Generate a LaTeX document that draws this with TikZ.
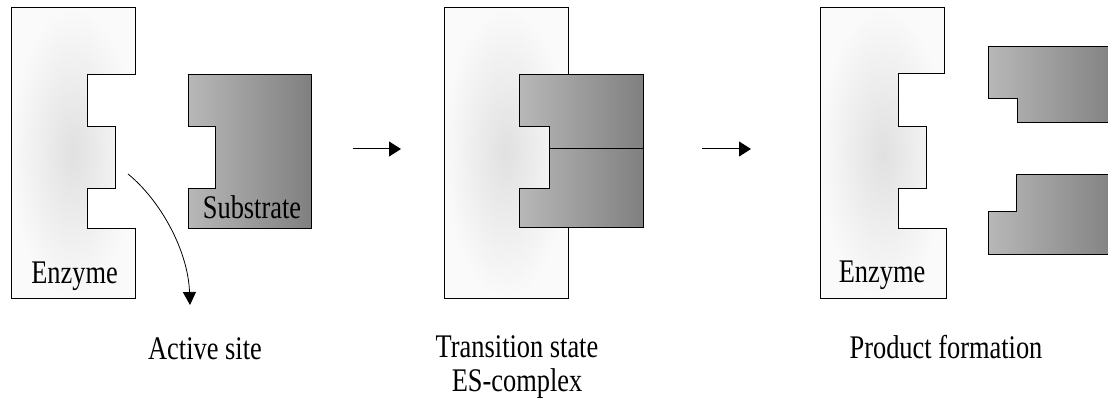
\documentclass[tikz,border=0pt]{standalone}
\usepackage{fontspec}
\setmainfont[FakeStretch=0.8]{Liberation Serif}
\usetikzlibrary{arrows.meta}
\begin{document}
\begin{tikzpicture}[x=1pt,y=-1pt,
  outline/.style={draw=black,line width=1pt,line join=miter},
  enzymefill/.style={outline,inner color=black!12,outer color=black!2},
  substratefill/.style={outline,left color=black!28,right color=black!50},
  label/.style={font=\fontsize{33}{34}\selectfont,inner sep=0pt,anchor=base},
  steparrow/.style={line width=1pt,-{Triangle[length=12pt,width=15pt]}},
]
\useasboundingbox (0,0) rectangle (1108,409);
\begin{scope}
\clip (0,0) rectangle (1108,409);

% --- stage 1: free enzyme and substrate ---
\path[enzymefill] (11,8) -- (135,8) -- (135,75) -- (87,75) -- (87,127) -- (115,127)
  -- (115,188) -- (87,188) -- (87,228) -- (135,228) -- (135,298) -- (11,298) -- cycle;
\path[substratefill] (188,75) -- (311,75) -- (311,228) -- (188,228) -- (188,188)
  -- (215,188) -- (215,127) -- (188,127) -- cycle;
\node[label] (enz1) at (74.5,283) {Enzyme};
\node[label] (sub) at (252,218) {Substrate};

% active-site pointer
\coordinate (siteA) at (128,174);
\coordinate (siteB) at (190,305);
\draw[line width=0.8pt,-{Triangle[length=13pt,width=13pt]}]
  (siteA) .. controls (160,200) and (188,250) .. (siteB);
\node[label] (active) at (205,359) {Active site};

% --- stage 2: enzyme-substrate complex ---
\path[enzymefill] (444,8) -- (568,8) -- (568,75) -- (519,75) -- (519,127) -- (549,127)
  -- (549,188) -- (519,188) -- (519,227) -- (568,227) -- (568,298) -- (444,298) -- cycle;
\path[substratefill] (519,75) -- (643,75) -- (643,227) -- (519,227) -- (519,188)
  -- (549,188) -- (549,127) -- (519,127) -- cycle;
\coordinate (bondL) at (549,148);
\coordinate (bondR) at (643,148);
\draw[line width=0.8pt] (bondL) -- (bondR);
\node[label,align=center] (ts) at (517,391) {Transition state\\ES-complex};

% --- stage 3: enzyme released, two products ---
\path[enzymefill] (820,8) -- (944,8) -- (944,74) -- (898,74) -- (898,127) -- (926,127)
  -- (926,188) -- (898,188) -- (898,228) -- (946,228) -- (946,298) -- (820,298) -- cycle;
\node[label] (enz3) at (882,282) {Enzyme};
\path[substratefill] (988,47) -- (1120,47) -- (1120,123) -- (1017,123) -- (1017,99)
  -- (988,99) -- cycle;
\path[substratefill] (1016,174) -- (1120,174) -- (1120,254) -- (988,254) -- (988,211)
  -- (1016,211) -- cycle;
\node[label] (prod) at (946,358) {Product formation};

% --- reaction arrows ---
\coordinate (r1a) at (353,149);
\coordinate (r1b) at (401,149);
\coordinate (r2a) at (702,149);
\coordinate (r2b) at (751,149);
\draw[steparrow] (r1a) -- (r1b);
\draw[steparrow] (r2a) -- (r2b);
\end{scope}
\end{tikzpicture}
\end{document}
